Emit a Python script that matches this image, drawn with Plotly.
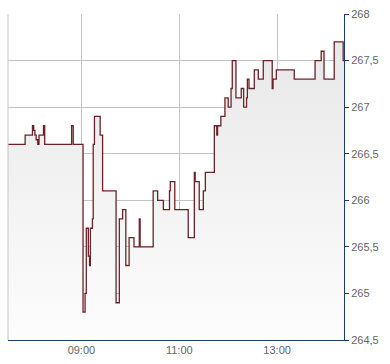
import plotly.graph_objects as go

DAY = "2024-01-02 "
times = [
    "07:30:00", "07:51:00", "08:00:00", "08:01:30", "08:03:00", "08:04:30", "08:06:30",
    "08:08:00", "08:13:30", "08:15:00", "08:48:00", "08:50:00", "09:02:00", "09:04:30",
    "09:06:00", "09:08:30", "09:10:00", "09:11:00", "09:13:30", "09:14:30", "09:16:00",
    "09:23:00", "09:26:00", "09:42:30", "09:46:30", "09:50:30", "09:54:30", "09:58:30",
    "10:04:30", "10:11:00", "10:12:00", "10:28:00", "10:33:30", "10:40:30", "10:48:00",
    "10:49:00", "10:54:30", "11:11:00", "11:18:30", "11:19:30", "11:24:30", "11:29:30",
    "11:32:00", "11:43:00", "11:46:00", "11:47:00", "11:51:00", "11:56:00", "12:00:00",
    "12:03:30", "12:05:00", "12:09:30", "12:16:00", "12:19:00", "12:22:30", "12:23:30",
    "12:25:30", "12:32:00", "12:37:00", "12:43:00", "12:54:00", "12:55:00", "12:59:00",
    "13:21:00", "13:46:30", "13:54:00", "13:57:30", "14:10:00", "14:21:00", "14:22:00",
]
prices = [
    266.6, 266.7, 266.8, 266.75, 266.7, 266.65, 266.6,
    266.7, 266.8, 266.6, 266.8, 266.6, 264.8, 265.0,
    265.7, 265.4, 265.3, 265.7, 265.8, 266.6, 266.9,
    266.7, 266.1, 264.9, 265.8, 265.9, 265.3, 265.6,
    265.5, 265.8, 265.5, 266.1, 266.0, 265.9, 266.1,
    266.2, 265.9, 265.6, 266.3, 266.2, 265.9, 266.1,
    266.3, 266.8, 266.7, 266.8, 266.9, 267.1, 267.0,
    267.2, 267.5, 267.1, 267.2, 267.0, 267.1, 267.3,
    267.2, 267.4, 267.3, 267.5, 267.2, 267.3, 267.4,
    267.3, 267.5, 267.6, 267.3, 267.7, 267.5, 267.5,
]
y_ticks = [264.5, 265, 265.5, 266, 266.5, 267, 267.5, 268]
x_start, x_end = "07:30:00", "14:22:00"

x = [DAY + t for t in times]

fig = go.Figure()
fig.add_trace(go.Scatter(
    x=x, y=prices, mode="lines", line=dict(shape="hv", color="#6b2328", width=1.3),
    fill="tozeroy",
    fillgradient=dict(type="vertical", colorscale=[[0, "#fdfdfd"], [1, "#e6e6e6"]],
                      start=264.5, stop=268),
    hoverinfo="skip", showlegend=False,
))

axis_blue = "#1d3c6e"
fig.update_layout(
    width=390, height=364,
    margin=dict(l=8, r=46, t=11, b=24),
    paper_bgcolor="white", plot_bgcolor="white",
    separators=", ",
    font=dict(family="Liberation Sans, Arial, sans-serif", size=11, color="#666666"),
    xaxis=dict(
        type="date", range=[DAY + x_start, DAY + x_end],
        tick0=DAY + "09:00:00", dtick=2 * 3600 * 1000, tickformat="%H:%M",
        showgrid=True, gridcolor="#c4c4c4", gridwidth=1,
        showline=True, linecolor=axis_blue, linewidth=1,
        ticks="", zeroline=False, fixedrange=True,
    ),
    yaxis=dict(
        side="right", range=[264.5, 268], tickvals=y_ticks,
        ticktext=[f"{v:g}".replace(".", ",") for v in y_ticks],
        showgrid=True, gridcolor="#c4c4c4", gridwidth=1,
        showline=True, linecolor=axis_blue, linewidth=1,
        ticks="outside", ticklen=4, tickcolor=axis_blue, tickwidth=1,
        zeroline=False, fixedrange=True,
    ),
    shapes=[dict(type="line", xref="paper", yref="paper", x0=0, x1=0, y0=0, y1=1,
                 line=dict(color="#c4c4c4", width=1))],
)

fig.write_html("out.html")
